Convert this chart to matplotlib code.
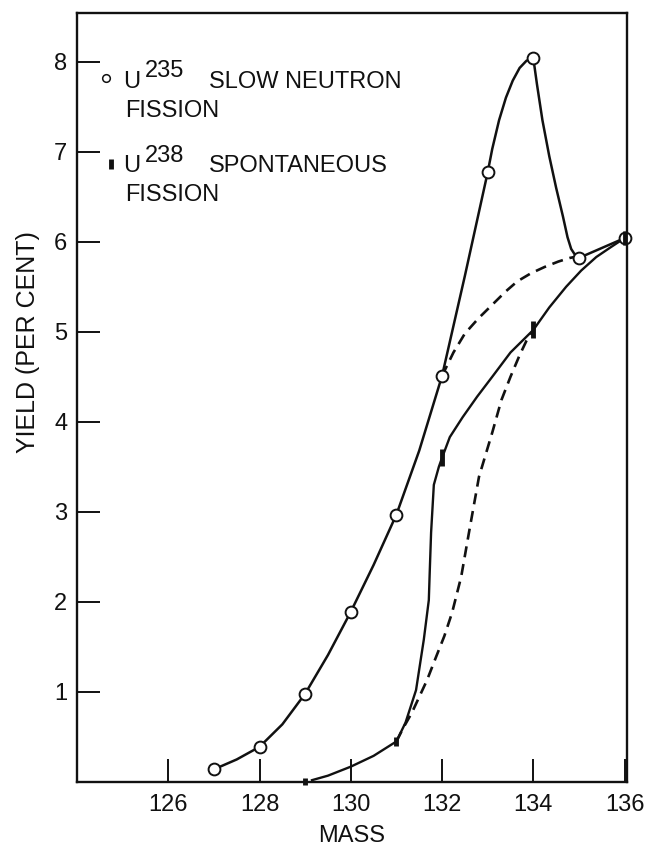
"""Fission yield vs mass: U235 slow neutron fission vs U238 spontaneous fission."""
import matplotlib
matplotlib.use("Agg")
import matplotlib.pyplot as plt

plt.rcParams["font.family"] = ["Liberation Sans", "DejaVu Sans"]
plt.rcParams["font.size"] = 17

# measured points
u235_mass = [127, 128, 129, 130, 131, 132, 133, 134, 135, 136]
u235_yield = [0.14, 0.39, 0.98, 1.89, 2.97, 4.51, 6.77, 8.04, 5.82, 6.04]

u238_mass = [129, 131, 132, 134, 136]
u238_yield = [0.0, 0.45, 3.6, 5.02, 6.04]

# hand-drawn curves
u235_curve_x = [127, 127.5, 128, 128.5, 129, 129.5, 130, 130.5, 131, 131.5, 132,
                132.5, 133, 133.1, 133.25, 133.4, 133.55, 133.7, 133.85, 134,
                134.08, 134.2, 134.35, 134.5, 134.65, 134.75, 134.83, 134.92, 135,
                135.5, 136]
u235_curve_y = [0.14, 0.25, 0.39, 0.64, 0.98, 1.41, 1.89, 2.41, 2.97, 3.68, 4.51,
                5.62, 6.77, 7.03, 7.35, 7.6, 7.79, 7.93, 8.01, 8.04,
                7.75, 7.35, 6.95, 6.6, 6.28, 6.05, 5.92, 5.85, 5.82,
                5.93, 6.04]

u235_alt_x = [132, 132.25, 132.5, 132.8, 133.1, 133.4, 133.65, 133.95, 134.25, 134.55, 134.8, 135]
u235_alt_y = [4.51, 4.77, 4.98, 5.15, 5.3, 5.45, 5.56, 5.65, 5.72, 5.78, 5.82, 5.84]

u238_curve_x = [129.15, 129.5, 130, 130.5, 131, 131.2, 131.43, 131.6, 131.71, 131.73,
                131.76, 131.82, 131.93, 132, 132.17, 132.45, 132.77, 133.1, 133.5,
                134, 134.35, 134.72, 135.05, 135.38, 135.7, 136]
u238_curve_y = [0.02, 0.07, 0.17, 0.29, 0.45, 0.66, 1.02, 1.58, 2.02, 2.33,
                2.77, 3.3, 3.5, 3.6, 3.83, 4.05, 4.28, 4.5, 4.77,
                5.02, 5.27, 5.5, 5.68, 5.83, 5.94, 6.04]

u238_alt_x = [131, 131.15, 131.34, 131.67, 131.87, 132.05, 132.22, 132.42, 132.59,
              132.81, 133.1, 133.3, 133.5, 133.7, 133.85, 134]
u238_alt_y = [0.45, 0.6, 0.77, 1.13, 1.39, 1.62, 1.88, 2.28, 2.77,
              3.39, 3.88, 4.24, 4.5, 4.74, 4.9, 5.02]

x_ticks = [126, 128, 130, 132, 134, 136]
y_ticks = [1, 2, 3, 4, 5, 6, 7, 8]

fig = plt.figure(figsize=(6.55, 8.46), dpi=100)
ax = fig.add_axes([0.1176, 0.0757, 0.957 - 0.1176, 0.9846 - 0.0757])

ink = "#111111"
ax.plot(u235_curve_x, u235_curve_y, color=ink, lw=1.8, zorder=2)
ax.plot(u235_alt_x, u235_alt_y, color=ink, lw=1.9, dashes=(4.2, 2.6), zorder=2)
ax.plot(u238_curve_x, u238_curve_y, color=ink, lw=1.7, zorder=2)
ax.plot(u238_alt_x, u238_alt_y, color=ink, lw=1.9, dashes=(4.2, 2.6), zorder=2)

ax.plot(u235_mass, u235_yield, ls="none", marker="o", ms=8.5, mfc="white",
        mec=ink, mew=1.4, zorder=3, clip_on=False)
bar_sizes = [25, 45, 150, 150, 110]
ax.scatter(u238_mass, u238_yield, marker="|", s=bar_sizes, linewidths=3.5,
           color=ink, zorder=4, clip_on=False)

ax.set_xlim(124, 136.05)
ax.set_ylim(0, 8.54)
ax.set_xticks(x_ticks)
ax.set_yticks(y_ticks)
ax.tick_params(direction="in", length=16.5, width=1.4, color=ink, labelcolor=ink)
ax.tick_params(axis="x", pad=9)
ax.tick_params(axis="y", pad=7)
for s in ax.spines.values():
    s.set_linewidth(1.7)
    s.set_color(ink)

ax.set_xlabel("MASS", labelpad=6, color=ink)
ax.set_ylabel("YIELD (PER CENT)", color=ink, fontsize=18)
ax.yaxis.set_label_coords(-0.068, 0.572)

# legend, lettered onto the plot
ax.plot([124.64], [7.82], ls="none", marker="o", ms=5.5, mfc="white", mec=ink, mew=1.1)
ax.text(125.0, 7.71, "U", color=ink)
ax.text(125.48, 7.83, "235", color=ink)
ax.text(126.9, 7.71, "SLOW NEUTRON", color=ink)
ax.text(125.05, 7.38, "FISSION", color=ink)

ax.scatter([124.75], [6.86], marker="|", s=60, linewidths=3.5, color=ink)
ax.text(125.0, 6.77, "U", color=ink)
ax.text(125.48, 6.89, "238", color=ink)
ax.text(126.9, 6.77, "SPONTANEOUS", color=ink)
ax.text(125.05, 6.45, "FISSION", color=ink)

fig.savefig("out.png", dpi=100, facecolor="white")
